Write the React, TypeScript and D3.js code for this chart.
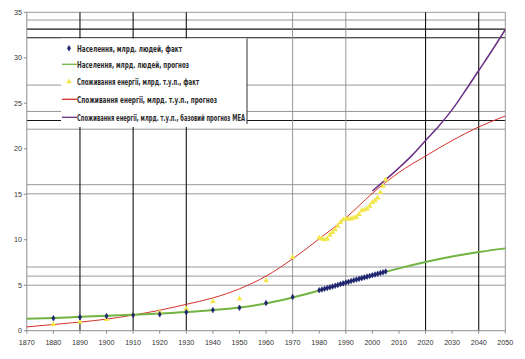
import React from "react";
import * as d3 from "d3";

const W = 525;
const H = 359;

const popFactYears = [1880, 1890, 1900, 1910, 1920, 1930, 1940, 1950, 1960, 1970,
  1980, 1981, 1982, 1983, 1984, 1985, 1986, 1987, 1988, 1989, 1990, 1991, 1992, 1993, 1994,
  1995, 1996, 1997, 1998, 1999, 2000, 2001, 2002, 2003, 2004, 2005];
const popFactValues = [1.37, 1.48, 1.6, 1.72, 1.8, 2.03, 2.27, 2.52, 3.04, 3.7,
  4.45, 4.53, 4.61, 4.69, 4.77, 4.85, 4.94, 5.03, 5.12, 5.2, 5.29, 5.37, 5.46, 5.54, 5.62,
  5.7, 5.78, 5.86, 5.94, 6.02, 6.1, 6.18, 6.26, 6.34, 6.42, 6.51];

const popForecastYears = [1870, 1880, 1890, 1900, 1910, 1920, 1930, 1940, 1950, 1960, 1970,
  1980, 1990, 2000, 2010, 2020, 2030, 2040, 2050];
const popForecastValues = [1.3, 1.4, 1.52, 1.63, 1.75, 1.88, 2.05, 2.28, 2.55, 3.0, 3.65,
  4.42, 5.27, 6.07, 6.85, 7.55, 8.15, 8.65, 9.05];

const energyFactYears = [1880, 1890, 1900, 1910, 1920, 1930, 1940, 1950, 1960, 1970,
  1980, 1981, 1982, 1983, 1984, 1985, 1986, 1987, 1988, 1989, 1990, 1991, 1992, 1993, 1994,
  1995, 1996, 1997, 1998, 1999, 2000, 2001, 2002, 2003, 2004, 2005];
const energyFactValues = [0.7, 0.95, 1.25, 1.76, 2.05, 2.42, 3.2, 3.5, 5.5, 8.07,
  10.2, 10.1, 10.0, 10.1, 10.5, 10.8, 11.1, 11.5, 11.9, 12.2, 12.3, 12.3, 12.3, 12.4, 12.5,
  12.8, 13.2, 13.3, 13.4, 13.7, 14.1, 14.3, 14.6, 15.2, 15.9, 16.6];

const energyForecastYears = [1870, 1880, 1890, 1900, 1910, 1920, 1930, 1940, 1950, 1960, 1970,
  1980, 1990, 2000, 2010, 2020, 2030, 2040, 2050];
const energyForecastValues = [0.42, 0.68, 0.95, 1.27, 1.72, 2.25, 2.9, 3.6, 4.6, 6.0, 7.9,
  10.1, 12.4, 15.1, 17.4, 19.2, 20.9, 22.4, 23.6];

const ieaYears = [2000, 2005, 2010, 2015, 2020, 2025, 2030, 2035, 2040, 2045, 2050];
const ieaValues = [15.35, 16.6, 17.9, 19.3, 20.9, 22.5, 24.3, 26.4, 28.6, 30.8, 33.1];

const xTicks = d3.range(1870, 2051, 10);
const yTicks = [0, 5, 10, 15, 20, 25, 30, 35];

// horizontal rules seen in the picture (value, dark?)
const hRuleValues = [35, 34.15, 33.15, 32.2, 27.0, 24.1, 23.1, 22.15, 16.05, 15.05, 7.0, 6.0, 5.0];
const hRuleDark = [false, false, true, true, false, false, true, false, false, false, false, false, false];
// vertical rules (year, dark?)
const vRuleYears = [1890, 1910, 1930, 1970, 1990, 2020, 2040, 2050];
const vRuleDark = [true, true, true, false, false, true, true, false];

const legendLabels = [
  "Населення, млрд. людей, факт",
  "Населення, млрд. людей, прогноз",
  "Споживання енергії, млрд. т.у.п., факт",
  "Споживання енергії, млрд. т.у.п., прогноз",
  "Споживання енергії, млрд. т.у.п., базовий прогноз МЕА",
];

const GREEN = "#72b443";
const RED = "#d2322b";
const PURPLE = "#6b2f86";
const NAVY = "#1e2370";
const YELLOW = "#f2e64a";
const GRID = "#8c8c8c";
const DARK = "#151515";

export default function App() {
  const x = d3.scaleLinear().domain([1870, 2050]).range([26.8, 505.3]);
  const y = d3.scaleLinear().domain([0, 35]).range([330.7, 12.3]);

  const line = (ys: number[], vs: number[]) =>
    d3.line<number>().x((_, i) => x(ys[i])).y((v) => y(v)).curve(d3.curveMonotoneX)(vs) || "";

  const diamond = d3.symbol().type(d3.symbolDiamond).size(9)() || "";
  const tri = d3.symbol().type(d3.symbolTriangle).size(14)() || "";

  const legendX = 61;
  const legendRight = 247;
  const legendTop = 38.5;
  const legendBottom = 127;
  const rowY = [48.3, 64.3, 81.7, 99.3, 117.3];
  const textW = [105, 112, 122, 140, 168];

  const [x0, x1] = x.range();
  const [yb, yt] = y.range();

  return (
    <svg width={W} height={H} style={{ position: "absolute", left: 0, top: 0, background: "#fff" }}
      fontFamily="'Liberation Sans', Arial, sans-serif">
      <rect x={0} y={0} width={W} height={H} fill="#fff" />
      {/* horizontal rules */}
      {hRuleValues.map((v, i) => (
        <line key={"h" + i} x1={x0} x2={x1} y1={y(v)} y2={y(v)}
          stroke={hRuleDark[i] ? DARK : GRID} strokeWidth={hRuleDark[i] ? 1.1 : 0.9} />
      ))}
      {/* vertical rules */}
      {vRuleYears.map((v, i) => (
        <line key={"v" + i} x1={x(v)} x2={x(v)} y1={yt} y2={yb}
          stroke={vRuleDark[i] ? DARK : GRID} strokeWidth={vRuleDark[i] ? 1.1 : 0.9} />
      ))}
      {/* axes */}
      <line x1={x0} x2={x0} y1={yt} y2={yb} stroke={GRID} strokeWidth={1} />
      <line x1={x0} x2={x1} y1={yb} y2={yb} stroke={GRID} strokeWidth={1} />
      {xTicks.map((t) => (
        <line key={"xt" + t} x1={x(t)} x2={x(t)} y1={yb} y2={yb + 3} stroke={GRID} />
      ))}
      {yTicks.map((t) => (
        <line key={"yt" + t} x1={x0 - 3} x2={x0} y1={y(t)} y2={y(t)} stroke={GRID} />
      ))}
      {xTicks.map((t) => (
        <text key={"xl" + t} x={x(t)} y={yb + 14.5} fontSize={7.2} fill="#333" textAnchor="middle">{t}</text>
      ))}
      {yTicks.map((t) => (
        <text key={"yl" + t} x={22} y={y(t) + 2.6} fontSize={7.2} fill="#333" textAnchor="end">{t}</text>
      ))}

      {/* series */}
      <path d={line(energyForecastYears, energyForecastValues)} fill="none" stroke={RED} strokeWidth={1} />
      <path d={line(popForecastYears, popForecastValues)} fill="none" stroke={GREEN} strokeWidth={2} />
      <path d={line(ieaYears, ieaValues)} fill="none" stroke={PURPLE} strokeWidth={1.5} />
      {energyFactValues.map((v, i) => (
        <path key={"e" + i} d={tri} transform={`translate(${x(energyFactYears[i])},${y(v)})`} fill={YELLOW} />
      ))}
      {popFactValues.map((v, i) => (
        <path key={"p" + i} d={diamond} transform={`translate(${x(popFactYears[i])},${y(v)})`}
          fill={NAVY} stroke={NAVY} strokeWidth={0.6} />
      ))}

      {/* legend */}
      <rect x={legendX} y={legendTop} width={legendRight - legendX} height={legendBottom - legendTop} fill="#fff" />
      <line x1={legendRight} x2={legendRight} y1={legendTop} y2={legendBottom - 3} stroke="#333" strokeWidth={1} />
      <path d={diamond} transform={`translate(69,${rowY[0]})`} fill={NAVY} stroke={NAVY} strokeWidth={0.6} />
      <line x1={62} x2={77} y1={rowY[1]} y2={rowY[1]} stroke={GREEN} strokeWidth={1.3} />
      <path d={tri} transform={`translate(69,${rowY[2]})`} fill={YELLOW} />
      <line x1={62} x2={77} y1={rowY[3]} y2={rowY[3]} stroke={RED} strokeWidth={1.3} />
      <line x1={62} x2={77} y1={rowY[4]} y2={rowY[4]} stroke={PURPLE} strokeWidth={1.3} />
      {legendLabels.map((l, i) => (
        <text key={"lg" + i} x={77} y={rowY[i] + 3.2} fontSize={9} fontWeight="bold" fill="#2a2a2a"
          textLength={textW[i]} lengthAdjust="spacingAndGlyphs"
          fontFamily="'Liberation Sans Narrow', 'DejaVu Sans Condensed', 'Liberation Sans', sans-serif">{l}</text>
      ))}
    </svg>
  );
}
